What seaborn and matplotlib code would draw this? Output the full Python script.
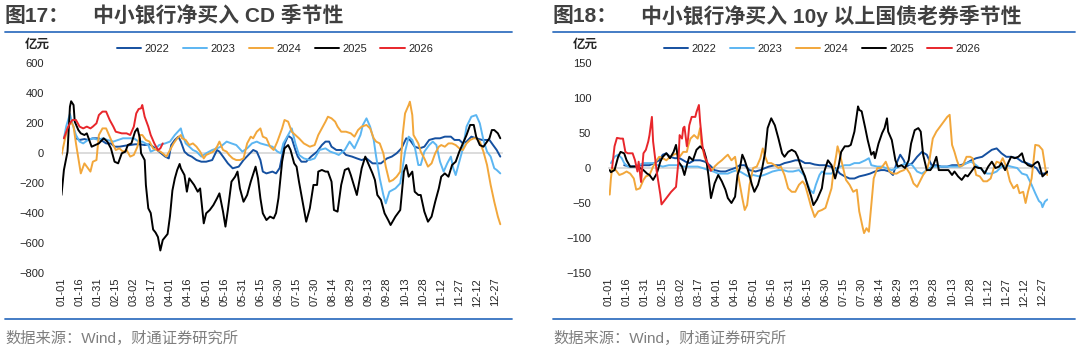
import pandas as pd
import matplotlib.pyplot as plt
import seaborn as sns
from matplotlib.lines import Line2D

years = ['2022', '2023', '2024', '2025', '2026']
colors = ['#1550a0', '#5cb6f2', '#f2a73b', '#000000', '#e8262b']
tick_days = list(range(0, 361, 15))
tick_labels = ['01-01', '01-16', '01-31', '02-15', '03-02', '03-17', '04-01', '04-16',
               '05-01', '05-16', '05-31', '06-15', '06-30', '07-15', '07-30', '08-14',
               '08-29', '09-13', '09-28', '10-13', '10-28', '11-12', '11-27', '12-12', '12-27']

# ---- 图17: 中小银行净买入 CD (亿元), day of year -> value ----
cd_day_2022 = [12, 15, 19, 22, 26, 31, 34, 37, 41, 44, 48, 53, 57, 61, 65, 69, 73, 77, 81, 86, 89, 91,
               94, 97, 99, 102, 105, 108, 112, 116, 120, 125, 129, 131, 134, 138, 142, 147, 151, 155,
               159, 162, 165, 167, 170, 175, 178, 181, 183, 185, 188, 191, 194, 196, 199, 203, 207,
               212, 216, 219, 222, 224, 228, 232, 236, 241, 245, 249, 253, 258, 261, 265, 270, 274,
               278, 282, 286, 289, 293, 297, 301, 305, 310, 314, 318, 323, 326, 330, 333, 336, 340,
               344, 349, 355, 358, 361, 364]
cd_val_2022 = [98, 87, 93, 87, 98, 98, 80, 64, 64, 42, 42, 49, 53, 58, 58, 53, 58, 36, 9, -24, -36, 53,
               87, 109, 76, 9, -13, -24, -47, -58, -58, -47, 20, 9, -24, -69, -102, -91, -47, -13,
               20, 9, -47, -124, -136, -124, -136, -100, -20, 60, 115, 98, 20, -24, -58, -58, -24,
               9, 53, 76, 76, 42, 20, 20, -13, -24, -36, -47, -36, -69, -69, -69, -36, -24,
               -2, 31, 98, 87, 42, 31, 42, 87, 98, 98, 109, 109, 87, 87, 64, 76, 109,
               98, 87, 87, 53, 20, -24]

cd_day_2023 = [2, 4, 7, 9, 12, 15, 18, 22, 26, 31, 34, 38, 43, 47, 51, 55, 60, 64, 67, 72, 74, 77, 81,
               86, 90, 94, 99, 100, 103, 106, 109, 112, 116, 120, 125, 129, 132, 137, 141, 145, 150,
               154, 158, 162, 165, 170, 175, 179, 182, 184, 188, 191, 194, 197, 201, 206, 210, 214,
               219, 223, 227, 230, 235, 239, 243, 248, 250, 253, 256, 259, 261, 264, 267, 269, 272,
               277, 281, 285, 288, 291, 293, 296, 298, 301, 305, 308, 311, 314, 317, 320, 323, 325,
               327, 330, 333, 336, 340, 344, 347, 350, 353, 356, 359, 361, 364]
cd_val_2023 = [98, 180, 260, 198, 120, 76, 64, 87, 98, 87, 98, 87, 76, 87, 98, 98, 98, 76, 76, 53, 9, 20,
               53, 64, 76, 120, 164, 131, 64, 42, 20, 9, -24, -2, 20, 31, 42, 76, 64, 53, 9,
               31, 64, 76, 64, 53, 42, 10, -2, 64, 120, 164, 64, -13, -36, -47, -36, 20,
               31, 9, -2, -13, 20, 76, 31, 120, 187, 231, 176, 87, -24, -169, -280, -336, -258,
               -236, -202, 9, 109, 87, 42, -80, -80, 9, 53, 76, 53, -58, -124, -69, -24, -102,
               -147, -58, 31, 176, 242, 253, 198, 87, 9, -24, -102, -113, -136]

cd_day_2024 = [0, 3, 5, 8, 10, 12, 14, 16, 19, 21, 24, 26, 29, 31, 34, 37, 40, 43, 45, 48, 51, 54, 57,
               60, 63, 65, 67, 70, 73, 76, 79, 82, 84, 87, 90, 93, 96, 99, 100, 103, 106, 109, 112,
               115, 118, 120, 123, 126, 129, 131, 134, 137, 139, 142, 145, 148, 151, 154, 157, 159,
               162, 165, 167, 170, 173, 176, 179, 183, 185, 188, 191, 194, 197, 201, 206, 210, 213,
               216, 219, 221, 224, 227, 229, 232, 236, 240, 243, 246, 249, 253, 256, 259, 261, 264,
               267, 269, 272, 275, 278, 281, 283, 285, 288, 289, 291, 292, 296, 298, 301, 304, 307,
               310, 313, 315, 318, 321, 324, 327, 330, 333, 336, 339, 342, 344, 347, 350, 353, 356,
               359, 362, 364]
cd_val_2024 = [-13, 98, 164, 209, 176, 64, -36, -136, -69, -91, -124, -58, -47, 120, 164, 164, 109, 53,
               20, 31, 9, 20, -24, -13, 42, 120, 120, 87, 76, 31, 20, 9, -2, -24, 20, 64, 98, 120,
               98, 87, 53, 64, 42, 9, -36, -13, -2, 9, 42, 76, 20, 9, -13, -36, -47, -47, -36, 64,
               109, 98, 142, 164, 109, 98, 42, 20, 75, 164, 220, 209, 142, 120, 98, 64, 42, 53, 120,
               164, 209, 242, 231, 209, 176, 142, 142, 131, 109, 153, 176, 187, 164, 98, 76, 64, -2,
               -91, -191, -180, -158, -124, 120, 264, 320, 342, 253, 120, 64, 9, -36, -91, -69, -2,
               42, 53, 42, 64, 64, 53, 31, 20, 64, 87, 98, 98, 76, 9, -80, -213, -325, -424, -475]

cd_day_2025 = [0, 2, 5, 7, 8, 10, 11, 14, 16, 19, 21, 22, 25, 28, 31, 35, 38, 41, 44, 47, 50, 53, 55,
               58, 61, 63, 65, 66, 69, 70, 72, 74, 76, 78, 80, 82, 84, 86, 88, 90, 92, 94, 96, 98,
               99, 102, 104, 106, 108, 110, 113, 115, 118, 120, 123, 126, 129, 131, 134, 136, 138,
               141, 144, 146, 148, 151, 154, 157, 161, 163, 165, 167, 170, 173, 176, 178, 180, 183,
               185, 188, 190, 193, 195, 197, 200, 203, 206, 209, 212, 213, 216, 219, 221, 224, 226,
               229, 232, 235, 238, 240, 245, 249, 252, 255, 258, 260, 262, 265, 268, 271, 273, 277,
               281, 284, 286, 288, 291, 293, 296, 298, 301, 304, 307, 310, 313, 315, 318, 321, 324,
               327, 330, 333, 336, 339, 342, 344, 347, 350, 355, 357, 359, 362, 364]
cd_val_2025 = [-280, -113, 9, 309, 345, 320, 209, 153, 131, 120, 131, 109, 42, 53, 64, 98, 76, 31, -58,
               -69, -2, 9, 53, 64, 142, 164, 98, -2, -47, -213, -369, -400, -510, -530, -560, -650,
               -580, -560, -540, -420, -250, -170, -113, -73, -102, -147, -258, -169, -191, -213,
               -258, -236, -469, -402, -380, -347, -302, -269, -391, -491, -380, -191, -158, -124,
               -236, -325, -280, -191, -91, -169, -302, -402, -447, -424, -436, -400, -300, -58, 31,
               53, 20, -69, -91, -191, -325, -458, -369, -213, -213, -124, -113, -124, -124, -191,
               -380, -391, -213, -113, -102, -147, -280, -102, -24, -80, -136, -180, -280, -313,
               -402, -447, -480, -424, -380, -124, -80, -158, -124, -258, -280, -280, -391, -458,
               -424, -325, -236, -158, -136, -158, -80, -58, 9, 64, 120, 187, 187, 109, 53, 42, 98,
               153, 153, 131, 98]

cd_day_2026 = [2, 5, 7, 9, 12, 15, 18, 21, 24, 26, 29, 31, 34, 37, 40, 43, 45, 50, 54, 57, 60, 62, 64,
               66, 67, 69, 72, 74, 77, 80, 82, 84]
cd_val_2026 = [98, 164, 198, 220, 220, 176, 164, 176, 164, 176, 198, 253, 276, 276, 220, 176, 142, 131,
               131, 120, 176, 264, 293, 298, 320, 242, 176, 120, 64, 20, 31, 64]

# ---- 图18: 中小银行净买入 10y 以上国债老券 (亿元) ----
tb_day_2022 = [13, 18, 23, 29, 34, 38, 42, 45, 48, 51, 55, 59, 64, 67, 71, 76, 80, 84, 88, 93, 97, 100,
               105, 109, 113, 117, 122, 126, 130, 133, 138, 142, 146, 151, 155, 159, 163, 167, 171,
               175, 180, 184, 188, 192, 196, 200, 204, 208, 213, 217, 221, 226, 229, 233, 236, 239,
               242, 245, 247, 252, 256, 260, 264, 268, 272, 276, 281, 285, 289, 292, 297, 301, 305,
               310, 314, 318, 322, 326, 330, 334, 339, 343, 347, 351, 355, 358, 361, 364]
tb_val_2022 = [4, 2, 3, 4, 4, 7, 11, 19, 21, 16, 14, 14, 9, 7, 11, 11, 9, 4, -3, -5, -5, -3,
               0, 4, 4, -3, -5, -3, 0, 2, 4, 4, 7, 9, 11, 11, 7, 7, 5,
               4, 4, 2, 0, -8, -12, -15, -15, -12, -10, -8, -5, -3, -3, -5, -10, 7,
               19, 11, 2, 7, 16, 23, 19, 4, 4, 2, 2, 4, 4, 4, 7, 11, 14,
               16, 21, 26, 28, 21, 16, 16, 14, 9, 7, 4, 0, -8, -8, -7]

tb_day_2023 = [2, 5, 8, 11, 13, 16, 21, 25, 29, 33, 37, 41, 45, 50, 54, 58, 62, 66, 70, 74, 78, 83, 87,
               91, 96, 99, 103, 107, 112, 116, 120, 125, 129, 132, 136, 141, 145, 149, 153, 158, 162,
               165, 167, 170, 172, 175, 177, 180, 182, 185, 188, 192, 196, 200, 204, 208, 213, 216,
               218, 223, 227, 230, 235, 239, 243, 247, 252, 256, 260, 264, 268, 272, 276, 281, 285,
               289, 292, 297, 301, 305, 310, 314, 318, 322, 326, 330, 334, 339, 343, 347, 351, 354,
               357, 359, 360, 362, 364]
tb_val_2023 = [7, 16, 19, 14, 7, 2, 2, 4, 7, 7, 7, 4, 2, 4, 4, 4, 2, 2, 2, 2, 0, -3, -5,
               -8, -8, -8, -5, -3, -8, -12, -10, -12, -10, -8, -5, -3, -3, -5, -5, -3, -10,
               -22, -31, -36, -24, -10, -5, -8, -8, -8, -3, 2, 4, 4, 7, 7, 11, 14,
               4, 2, 2, 0, -3, 0, 4, 7, 4, -5, -8, -3, 2, 2, 2, 2, 2,
               2, 2, 7, 9, 4, -3, -8, -8, -5, 2, 4, 2, 0, -8, -10, -24, -36,
               -47, -50, -56, -48, -45]

tb_day_2024 = [1, 2, 3, 6, 9, 12, 15, 18, 21, 23, 26, 29, 31, 34, 37, 40, 42, 45, 48, 51, 54, 57, 59,
               62, 65, 66, 68, 71, 74, 76, 77, 80, 83, 86, 88, 91, 94, 97, 99, 102, 105, 107, 109,
               111, 113, 115, 117, 120, 123, 126, 128, 130, 132, 135, 138, 141, 143, 146, 149, 152,
               155, 158, 161, 163, 165, 168, 171, 174, 177, 180, 182, 185, 187, 189, 190, 192, 195,
               197, 200, 203, 206, 208, 211, 212, 214, 216, 218, 220, 223, 226, 228, 230, 233, 236,
               239, 242, 245, 247, 250, 253, 256, 259, 261, 264, 266, 269, 272, 275, 278, 281, 283,
               285, 287, 289, 291, 294, 297, 300, 302, 305, 308, 311, 314, 317, 320, 322, 325, 327,
               330, 333, 336, 339, 341, 344, 346, 348, 351, 354, 357, 360, 363, 364]
tb_val_2024 = [-38, -15, 0, -3, -10, -8, -5, -8, -15, -31, -29, -17, -12, -10, 2, 11, 16, 14, 11, 16,
               19, 21, 16, 23, 23, 31, 42, 47, 42, 57, 35, 14, 2, -3, 2, 7, 11, 16, 19, 11, 16, -5,
               -24, -43, -60, -53, -24, 0, 2, 14, 28, 16, 7, 7, 4, 0, 2, -10, -29, -34, -34, -24,
               -19, -24, -36, -55, -70, -62, -60, -57, -46, -29, 0, 19, 31, 19, -3, -17, -24, -34,
               -31, -62, -86, -93, -86, -91, -53, -15, 0, 0, 4, 9, -5, -8, -8, -5, -3, 0, -8, -22,
               -27, -17, -10, -3, 9, 42, 52, 59, 66, 73, 76, 33, 23, 11, 2, 4, 16, 16, 14, -10, -12,
               -19, -19, -15, 2, 9, 7, 14, 2, -19, -29, -24, -36, -34, -50, -34, -15, 33, 32, 26,
               -7, -10]

tb_day_2025 = [1, 2, 5, 8, 10, 13, 15, 18, 20, 23, 26, 29, 32, 34, 37, 40, 43, 45, 48, 51, 54, 56, 58,
               61, 63, 65, 67, 70, 73, 76, 79, 81, 83, 85, 88, 91, 94, 97, 99, 102, 105, 107, 109,
               111, 113, 116, 119, 121, 124, 127, 130, 132, 135, 138, 141, 144, 146, 149, 152, 155,
               157, 160, 163, 165, 168, 170, 173, 177, 179, 182, 185, 188, 191, 193, 196, 199, 201,
               204, 207, 208, 210, 213, 215, 218, 220, 221, 224, 227, 229, 231, 232, 235, 238, 240,
               243, 246, 249, 251, 254, 257, 259, 261, 264, 267, 269, 272, 274, 278, 282, 285, 287,
               290, 293, 296, 298, 301, 304, 307, 309, 312, 315, 318, 321, 324, 326, 329, 332, 334,
               337, 340, 343, 345, 348, 351, 354, 356, 357, 360, 363, 364]
tb_val_2025 = [-3, -6, -3, 16, 23, 21, 11, 2, 2, 2, 0, -3, -8, -10, -17, -8, 9, 16, 21, 14, 23, 33, 9,
               2, -10, 4, 16, 11, 26, 31, 26, 14, -12, -43, -22, -10, -19, -31, -43, -50, -41, -10,
               0, 19, 11, -5, -24, -34, -24, -5, 23, 57, 71, 61, 42, 21, 16, 23, 26, 23, 16, 0,
               -12, -24, -40, -53, -45, -29, -5, 11, 4, -15, 4, 23, 31, 31, 33, 52, 88, 83, 81, 57,
               40, 19, 23, 14, 35, 50, 57, 71, 52, 40, 11, 2, 4, 0, 11, 35, 54, 57, 52, 19, -3, -3,
               2, 16, -3, -3, -3, -10, -5, -12, -17, -10, -12, -5, 2, 0, 0, -8, 2, 9, 0, 2, 7, -3,
               9, 16, 14, 16, 21, 9, 4, 2, 7, 9, 7, -12, -7, -5]

tb_day_2026 = [3, 5, 7, 10, 12, 14, 16, 20, 22, 24, 25, 27, 29, 31, 33, 34, 36, 37, 40, 43, 44, 48, 52,
               56, 58, 59, 61, 62, 63, 65, 66, 67, 69, 72, 73, 75, 76, 78, 80, 83, 85]
tb_val_2026 = [0, 31, 43, 42, 42, 23, 21, 21, 11, -5, 9, -20, 21, 26, 38, 47, 73, 38, -5, -38, -52, -43,
               -34, -27, 9, 47, 42, 57, 59, 31, 42, 61, 73, 73, 80, 90, 66, 31, 16, 4, -4]


def to_frame(days, vals):
    parts = [pd.DataFrame({'day': d, 'value': v, 'year': y}) for d, v, y in zip(days, vals, years)]
    return pd.concat(parts, ignore_index=True)


cd_df = to_frame([cd_day_2022, cd_day_2023, cd_day_2024, cd_day_2025, cd_day_2026],
                 [cd_val_2022, cd_val_2023, cd_val_2024, cd_val_2025, cd_val_2026])
tb_df = to_frame([tb_day_2022, tb_day_2023, tb_day_2024, tb_day_2025, tb_day_2026],
                 [tb_val_2022, tb_val_2023, tb_val_2024, tb_val_2025, tb_val_2026])

sns.set_style('white')
plt.rcParams['font.family'] = ['Liberation Sans', 'Noto Sans CJK SC']
plt.rcParams['axes.unicode_minus'] = True

W, H = 1080, 351
fig = plt.figure(figsize=(W / 100, H / 100), dpi=100)
ax1 = fig.add_axes([61.5 / W, 78 / H, 440 / W, 210 / H])
ax2 = fig.add_axes([608.5 / W, 78 / H, 440 / W, 210 / H])


def draw_panel(ax, df, ylim, yticks):
    sns.lineplot(data=df, x='day', y='value', hue='year', hue_order=years,
                 palette=dict(zip(years, colors)), estimator=None, sort=False,
                 lw=1.4, ax=ax, zorder=3)
    ax.set_xlim(0, 365)
    ax.set_ylim(*ylim)
    ax.set_yticks(yticks)
    ax.set_xlabel('')
    ax.set_ylabel('')
    for s in ['left', 'right', 'top']:
        ax.spines[s].set_visible(False)
    ax.spines['bottom'].set_position(('data', 0))
    ax.spines['bottom'].set_color('#d9d9d9')
    ax.spines['bottom'].set_linewidth(1.3)
    ax.set_xticks(tick_days)
    ax.tick_params(axis='x', length=3, width=0.8, color='#d9d9d9', direction='out', labelbottom=False)
    ax.tick_params(axis='y', length=0, pad=12.5, labelsize=8, labelcolor='#262626')
    sec = ax.secondary_xaxis('bottom')
    sec.set_ticks(tick_days, labels=tick_labels)
    sec.tick_params(length=0, labelrotation=90, labelsize=8, pad=3.5, labelcolor='#262626')
    sec.spines['bottom'].set_visible(False)
    sns.move_legend(ax, 'center', bbox_to_anchor=(0.485, 1.067), ncol=5, frameon=False,
                    title=None, fontsize=8, handlelength=2.2, handletextpad=0.3,
                    columnspacing=1.2)


draw_panel(ax1, cd_df, (-800, 600), range(-800, 601, 200))
draw_panel(ax2, tb_df, (-150, 150), range(-150, 151, 50))

title_color = '#404040'
for x0, num, title in [(5, '图17：', '中小银行净买入 CD 季节性'),
                       (553, '图18：', '中小银行净买入 10y 以上国债老券季节性')]:
    fig.text(x0 / W, 1 - 16 / H, num, fontsize=15, color=title_color, va='center', weight='bold')
    fig.text((x0 + 88) / W, 1 - 16 / H, title, fontsize=15, color=title_color, va='center',
             weight='bold')
    fig.text(x0 / W, 1 - 338 / H, '数据来源：Wind，财通证券研究所', fontsize=11, color='#7f7f7f',
             va='center')

for x0, x1 in [(5, 512), (553, 1075)]:
    for yy in (32, 319):
        fig.add_artist(Line2D([x0 / W, x1 / W], [1 - yy / H] * 2, color='#3572c0', lw=1.3,
                              transform=fig.transFigure))

fig.text(37 / W, 1 - 45 / H, '亿元', fontsize=9, color='#262626', ha='center', va='center',
         weight='bold')
fig.text(585 / W, 1 - 45 / H, '亿元', fontsize=9, color='#262626', ha='center', va='center',
         weight='bold')

fig.savefig('out.png', dpi=100)
